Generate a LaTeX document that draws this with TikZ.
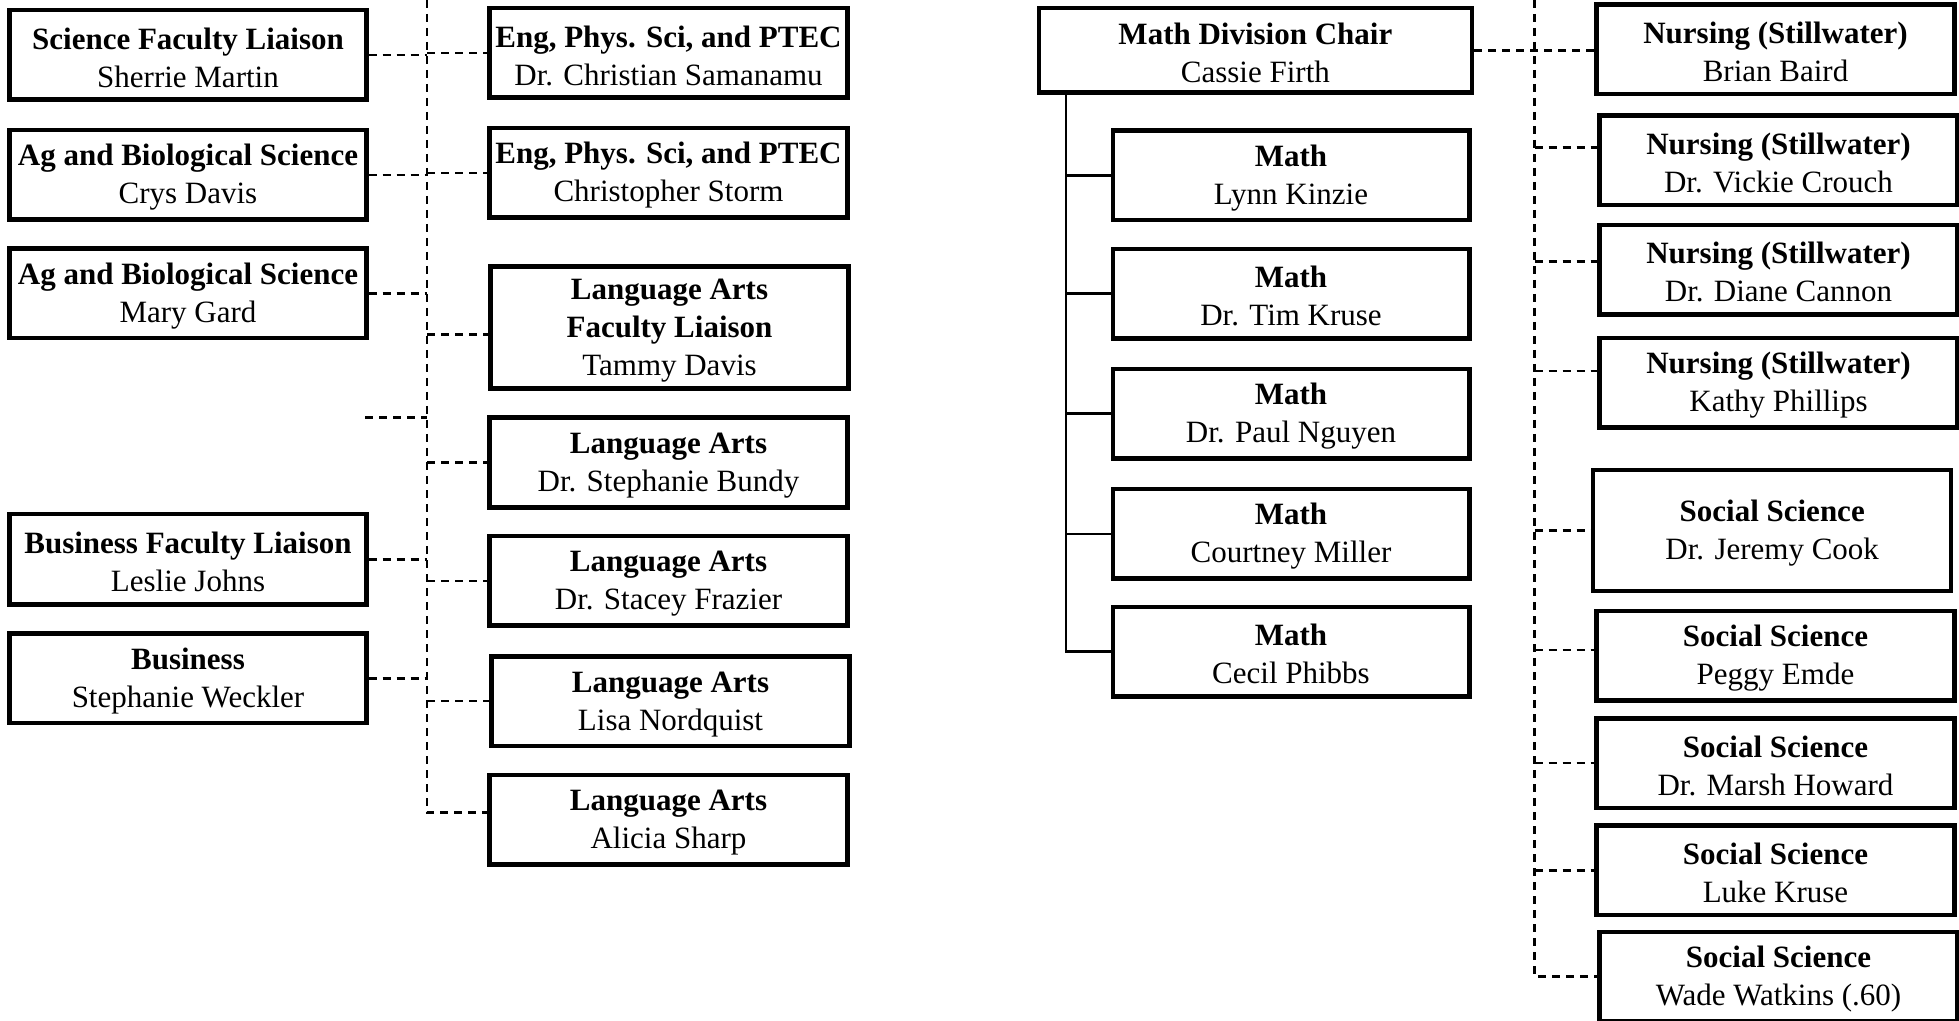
\documentclass[tikz,border=0pt]{standalone}
\usepackage{fontspec}
\setmainfont{Liberation Serif}
\newcommand\staff[2]{\rule{0pt}{13.3pt}\textbf{#1}\\#2}
\tikzset{
  unitbox/.style={draw, line width=2.25pt, align=center, inner sep=0pt,
    minimum width=179pt, minimum height=44.75pt,
    font=\fontsize{15.5}{19}\selectfont},
  dotlink/.style={line width=1.3pt, dash pattern=on 4pt off 3pt},
  treelink/.style={line width=1.3pt},
}
\begin{document}
\begin{tikzpicture}[x=0.5pt, y=-0.5pt]
  \useasboundingbox (0,0) rectangle (1959,1021);

  % left column
  \node[unitbox, minimum width=178.4pt] (sfl) at (188,55) {\staff{Science Faculty Liaison}{Sherrie Martin}};
  \node[unitbox, minimum width=178.4pt] (agb1) at (188,175) {\staff{Ag and Biological Science}{Crys Davis}};
  \node[unitbox, minimum width=178.4pt] (agb2) at (188,293.3) {\staff{Ag and Biological Science}{Mary Gard}};
  \coordinate (stub) at (365,417.7);
  \node[unitbox, minimum width=178.4pt, minimum height=45.25pt] (bfl) at (188,559.2) {\staff{Business Faculty Liaison}{Leslie Johns}};
  \node[unitbox, minimum width=178.4pt] (bus) at (188,678.3) {\staff{Business}{Stephanie Weckler}};

  % middle column
  \node[unitbox] (eng1) at (668.5,53) {\staff{Eng, Phys. Sci, and PTEC}{Dr. Christian Samanamu}};
  \node[unitbox] (eng2) at (668.5,173) {\staff{Eng, Phys. Sci, and PTEC}{Christopher Storm}};
  \node[unitbox, minimum height=61pt] (laf) at (669.5,327.5) {\rule{0pt}{13.3pt}\textbf{Language Arts}\\\textbf{Faculty Liaison}\\Tammy Davis};
  \node[unitbox] (la1) at (668.5,462.5) {\staff{Language Arts}{Dr. Stephanie Bundy}};
  \node[unitbox] (la2) at (668.5,580.8) {\staff{Language Arts}{Dr. Stacey Frazier}};
  \node[unitbox] (la3) at (670.5,701) {\staff{Language Arts}{Lisa Nordquist}};
  \node[unitbox] (la4) at (668.5,819.5) {\staff{Language Arts}{Alicia Sharp}};

  % math division
  \node[unitbox, minimum width=216.6pt, minimum height=42.25pt] (chair) at (1255.4,50.5) {\staff{Math Division Chair}{Cassie Firth}};
  \node[unitbox, minimum width=178.25pt] (m1) at (1291,175.5) {\staff{Math}{Lynn Kinzie}};
  \node[unitbox, minimum width=178.25pt] (m2) at (1291,293.7) {\staff{Math}{Dr. Tim Kruse}};
  \node[unitbox, minimum width=178.25pt] (m3) at (1291,413.8) {\staff{Math}{Dr. Paul Nguyen}};
  \node[unitbox, minimum width=178.25pt] (m4) at (1291,533.8) {\staff{Math}{Courtney Miller}};
  \node[unitbox, minimum width=178.25pt] (m5) at (1291,651.7) {\staff{Math}{Cecil Phibbs}};

  % right column
  \node[unitbox] (n1) at (1775.5,49.2) {\staff{Nursing (Stillwater)}{Brian Baird}};
  \node[unitbox] (n2) at (1778.5,160.5) {\staff{Nursing (Stillwater)}{Dr. Vickie Crouch}};
  \node[unitbox] (n3) at (1778.5,269.7) {\staff{Nursing (Stillwater)}{Dr. Diane Cannon}};
  \node[unitbox] (n4) at (1778.5,382.8) {\staff{Nursing (Stillwater)}{Kathy Phillips}};
  \node[unitbox, minimum height=60.5pt] (s1) at (1772.2,530.5) {\staff{Social Science}{Dr. Jeremy Cook}};
  \node[unitbox] (s2) at (1775.5,655.7) {\staff{Social Science}{Peggy Emde}};
  \node[unitbox] (s3) at (1775.5,763) {\staff{Social Science}{Dr. Marsh Howard}};
  \node[unitbox] (s4) at (1775.5,870.3) {\staff{Social Science}{Luke Kruse}};
  \node[unitbox] (s5) at (1778.5,976.5) {\staff{Social Science}{Wade Watkins (.60)}};

  % dashed spines
  \coordinate (spineL) at (427,0);
  \coordinate (spineR) at (1534.5,0);
  \coordinate (trunk) at (1066,0);
  \coordinate (lafin) at ([yshift=-3.4pt]laf.west);
  \coordinate (la4in) at ([yshift=3.4pt]la4.west);
  \coordinate (n2in) at ([yshift=6.4pt]n2.west);
  \coordinate (n3in) at ([yshift=4pt]n3.west);
  \coordinate (n4in) at ([yshift=5.9pt]n4.west);
  \coordinate (s2in) at ([yshift=2.9pt]s2.west);

  \draw[dotlink] (spineL) |- (la4in);
  \foreach \u in {sfl.east, agb1.east, agb2.east, stub, bfl.east, bus.east}
    \draw[dotlink] (\u) -- (\u -| spineL);
  \foreach \u in {eng1.west, eng2.west, lafin, la1.west, la2.west, la3.west}
    \draw[dotlink] (\u -| spineL) -- (\u);

  \draw[dotlink] (spineR) |- (s5.west);
  \draw[dotlink] (chair.east) -- (chair.east -| n1.west);
  \foreach \u in {n2in, n3in, n4in, s1.west, s2in, s3.west, s4.west}
    \draw[dotlink] (\u -| spineR) -- (\u);

  % math tree
  \draw[treelink] (chair.south -| trunk) |- (m5.west);
  \foreach \u in {m1, m2, m3, m4}
    \draw[treelink] (\u.west -| trunk) -- (\u.west);
\end{tikzpicture}
\end{document}
